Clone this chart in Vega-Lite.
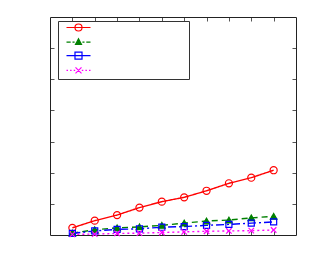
{
  "$schema": "https://vega.github.io/schema/vega-lite/v6.json",
  "width": 246,
  "height": 218,
  "autosize": {"type": "none"},
  "padding": {"left": 50, "top": 17, "right": 17, "bottom": 28},
  "background": "white",
  "config": {
    "view": {"stroke": null},
    "axis": {"labels": false, "grid": false, "title": null, "domainColor": "#222", "domainWidth": 1, "tickColor": "#555", "tickSize": -4, "tickWidth": 1}
  },
  "data": {
    "values": [
      {"x": 1, "y": 0.23, "s": "A"}, {"x": 2, "y": 0.46, "s": "A"}, {"x": 3, "y": 0.64, "s": "A"}, {"x": 4, "y": 0.88, "s": "A"}, {"x": 5, "y": 1.07, "s": "A"},
      {"x": 6, "y": 1.21, "s": "A"}, {"x": 7, "y": 1.42, "s": "A"}, {"x": 8, "y": 1.66, "s": "A"}, {"x": 9, "y": 1.84, "s": "A"}, {"x": 10, "y": 2.08, "s": "A"},
      {"x": 1, "y": 0.06, "s": "B"}, {"x": 2, "y": 0.17, "s": "B"}, {"x": 3, "y": 0.23, "s": "B"}, {"x": 4, "y": 0.26, "s": "B"}, {"x": 5, "y": 0.31, "s": "B"},
      {"x": 6, "y": 0.38, "s": "B"}, {"x": 7, "y": 0.45, "s": "B"}, {"x": 8, "y": 0.48, "s": "B"}, {"x": 9, "y": 0.55, "s": "B"}, {"x": 10, "y": 0.6, "s": "B"},
      {"x": 1, "y": 0.05, "s": "C"}, {"x": 2, "y": 0.13, "s": "C"}, {"x": 3, "y": 0.18, "s": "C"}, {"x": 4, "y": 0.2, "s": "C"}, {"x": 5, "y": 0.25, "s": "C"},
      {"x": 6, "y": 0.27, "s": "C"}, {"x": 7, "y": 0.31, "s": "C"}, {"x": 8, "y": 0.34, "s": "C"}, {"x": 9, "y": 0.38, "s": "C"}, {"x": 10, "y": 0.42, "s": "C"},
      {"x": 1, "y": 0.02, "s": "D"}, {"x": 2, "y": 0.03, "s": "D"}, {"x": 3, "y": 0.05, "s": "D"}, {"x": 4, "y": 0.06, "s": "D"}, {"x": 5, "y": 0.08, "s": "D"},
      {"x": 6, "y": 0.1, "s": "D"}, {"x": 7, "y": 0.12, "s": "D"}, {"x": 8, "y": 0.13, "s": "D"}, {"x": 9, "y": 0.14, "s": "D"}, {"x": 10, "y": 0.16, "s": "D"}
    ]
  },
  "resolve": {
    "axis": {"x": "independent", "y": "independent"},
    "scale": {"shape": "independent", "fill": "independent", "stroke": "independent", "color": "independent"},
    "legend": {"shape": "independent", "fill": "independent", "stroke": "independent", "color": "independent"}
  },
  "layer": [
    {
      "mark": {"type": "line", "strokeWidth": 1.4},
      "encoding": {
        "x": {"field": "x", "type": "quantitative", "scale": {"domain": [0, 11], "nice": false, "zero": false}, "axis": {"orient": "bottom", "values": [1,2,3,4,5,6,7,8,9,10]}},
        "y": {"field": "y", "type": "quantitative", "scale": {"domain": [0, 7], "nice": false, "zero": false}, "axis": {"orient": "left", "values": [1,2,3,4,5,6]}},
        "color": {"field": "s", "type": "nominal", "scale": {"domain": ["A", "B", "C", "D"], "range": ["#ff0000", "#008000", "#0000ff", "#ff00ff"]}, "legend": null},
        "strokeDash": {"field": "s", "type": "nominal", "scale": {"domain": ["A", "B", "C", "D"], "range": [[1, 0], [6, 4], [8, 3, 2, 3], [2, 3]]}, "legend": null}
      }
    },
    {
      "mark": {"type": "point", "filled": false, "strokeWidth": 1.2, "opacity": 1},
      "encoding": {
        "x": {"field": "x", "type": "quantitative", "axis": {"orient": "top", "values": [1,2,3,4,5,6,7,8,9,10]}},
        "y": {"field": "y", "type": "quantitative", "axis": {"orient": "right", "values": [1,2,3,4,5,6]}},
        "color": {"field": "s", "type": "nominal", "scale": {"domain": ["A", "B", "C", "D"], "range": ["#ff0000", "#008000", "#0000ff", "#ff00ff"]}, "legend": null},
        "shape": {"field": "s", "type": "nominal", "scale": {"domain": ["A", "B", "C", "D"], "range": ["circle", "triangle-up", "square", "M-1,-1L1,1M-1,1L1,-1"]}, "legend": null},
        "size": {"field": "s", "type": "nominal", "scale": {"domain": ["A", "B", "C", "D"], "range": [50, 30, 45, 36]}, "legend": null},
        "fill": {"field": "s", "type": "nominal", "scale": {"domain": ["A", "B", "C", "D"], "range": ["transparent", "#008000", "transparent", "transparent"]}, "legend": null}
      }
    },
    {
      "transform": [{"filter": "datum.s === 'none'"}],
      "mark": {"type": "point", "filled": false, "strokeWidth": 1.2, "opacity": 1},
      "encoding": {
        "stroke": {"field": "s", "type": "nominal", "scale": {"domain": ["A", "B", "C", "D"], "range": ["#ff0000", "#008000", "#0000ff", "#ff00ff"]},
          "legend": {
            "orient": "none", "legendX": 8, "legendY": 4, "title": null,
            "strokeColor": "#333", "padding": 2.5, "symbolSize": 36, "symbolOffset": 14,
            "labelFontSize": 6, "rowPadding": 2.6, "labelOffset": 104,
            "labelExpr": "'\u00a0'",
            "symbolStrokeWidth": 1.2
          }
        },
        "shape": {"field": "s", "type": "nominal", "scale": {"domain": ["A", "B", "C", "D"], "range": [
          "M-4,0H4M1.17,0A1.17,1.17 0 1,1 -1.17,0A1.17,1.17 0 1,1 1.17,0",
          "M-4,0H-2.6M-2,0H-1.3M1.3,0H2M2.6,0H4M0,-1.1L1,0.8L-1,0.8Z",
          "M-4,0H4M-1.17,-1.17H1.17V1.17H-1.17Z",
          "M-4,0H-3.5M-2.8,0H-2.3M-1.6,0H-1.1M1.1,0H1.6M2.3,0H2.8M3.5,0H4M-1,-1L1,1M-1,1L1,-1"
        ]}},
        "fill": {"field": "s", "type": "nominal", "scale": {"domain": ["A", "B", "C", "D"], "range": ["transparent", "#008000", "transparent", "transparent"]}}
      }
    }
  ]
}
